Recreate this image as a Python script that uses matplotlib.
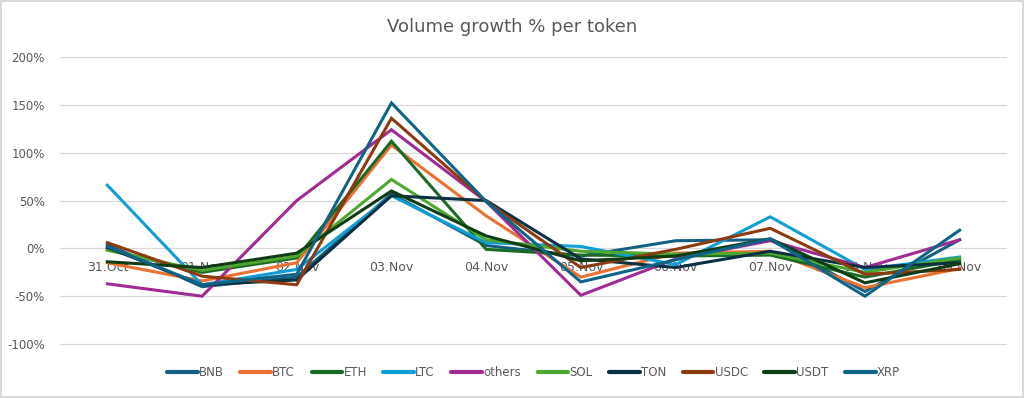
import numpy as np
import matplotlib.pyplot as plt

# data (growth in %)
dates = ['31.Oct', '01.Nov', '02.Nov', '03.Nov', '04.Nov', '05.Nov', '06.Nov', '07.Nov', '08.Nov', '09.Nov']
bnb = [4, -40, -30, 57, 3, -8, 8, 9, -45, 9]
btc = [-15, -34, -15, 108, 34, -30, -5, -3, -41, -21]
eth = [-1, -25, -10, 112, -1, -7, -8, -7, -30, -12]
ltc = [66, -38, -22, 55, 6, 2, -17, 33, -22, -9]
others = [-37, -50, 50, 124, 49, -49, -11, 8, -20, 9]
sol = [-2, -23, -8, 72, 9, -3, -6, -5, -25, -10]
ton = [1, -38, -33, 55, 50, -11, -20, -3, -20, -15]
usdc = [6, -29, -38, 136, 49, -20, -1, 21, -27, -22]
usdt = [-14, -20, -5, 60, 13, -13, -8, 10, -36, -16]
xrp = [2, -38, -27, 152, 49, -35, -12, 10, -50, 19]

names = ['BNB', 'BTC', 'ETH', 'LTC', 'others', 'SOL', 'TON', 'USDC', 'USDT', 'XRP']
series = [bnb, btc, eth, ltc, others, sol, ton, usdc, usdt, xrp]
colors = ['#156082', '#E97132', '#196B24', '#0F9ED5', '#A02B93',
          '#4EA72E', '#0B3041', '#8C3A10', '#0E3D15', '#0E6487']

grey = '#595959'

fig = plt.figure(figsize=(10.24, 3.98), dpi=100)
fig.patch.set_edgecolor('#d9d9d9')
fig.patch.set_linewidth(1.5)
# y range -102..200 so the -100% gridline is not clipped
ax = fig.add_axes([60 / 1024, 1 - 346 / 398, 947 / 1024, 289 / 398])

x = np.arange(len(dates))
for name, vals, c in zip(names, series, colors):
    ax.plot(x, vals, color=c, lw=2.2, label=name, solid_joinstyle='miter')

ax.set_xlim(-0.5, len(dates) - 0.5)
ax.set_ylim(-102, 200)
ax.set_yticks(np.arange(-100, 201, 50))
ax.set_yticklabels([f'{v}%' for v in range(-100, 201, 50)])
ax.yaxis.grid(True, color='#d9d9d9', lw=0.9)
ax.set_axisbelow(True)

ax.set_xticks(x)
ax.set_xticklabels(dates)
ax.spines['bottom'].set_position(('data', 0))
for s in ['top', 'right', 'left', 'bottom']:
    ax.spines[s].set_visible(False)
ax.tick_params(axis='both', length=0, colors=grey, labelsize=8.5)
ax.tick_params(axis='x', pad=9, labelsize=9)
ax.tick_params(axis='y', pad=11)

fig.text(0.5, 1 - 27 / 398, 'Volume growth % per token', ha='center', va='center',
         fontsize=13, color=grey)

leg = ax.legend(loc='center', bbox_to_anchor=(0.5, (346 - 373) / 289), ncol=10, frameon=False,
                fontsize=8.5, handlelength=2.6, handletextpad=0.1, columnspacing=1.4,
                labelcolor=grey)
for h in leg.get_lines():
    h.set_linewidth(3)
    h.set_solid_capstyle('round')

fig.savefig('out.png', dpi=100, edgecolor=fig.get_edgecolor())
